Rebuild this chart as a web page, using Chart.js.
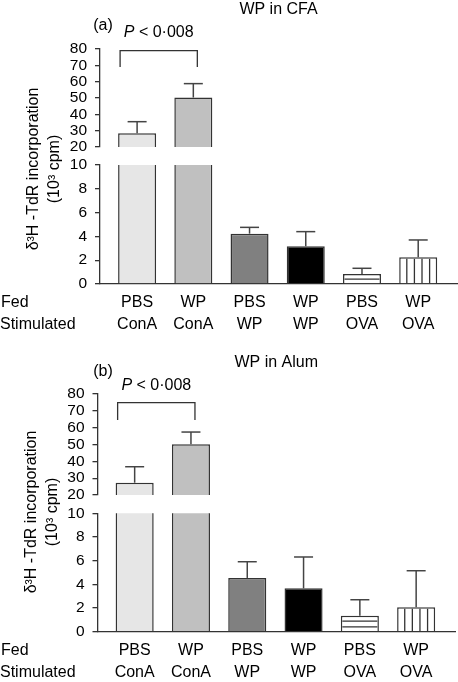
<!DOCTYPE html>
<html><head><meta charset="utf-8">
<script src="https://cdn.jsdelivr.net/npm/chart.js@4.4.1/dist/chart.umd.min.js"></script>
<style>
html,body{margin:0;padding:0;background:#fff;}
canvas{position:absolute;left:0;}
#ca{top:0}
#cb{top:341px}
</style></head><body>
<canvas id="ca" width="458" height="341"></canvas>
<canvas id="cb" width="458" height="341"></canvas>
<script>
// ---- data ----
const fedLabels = ['PBS', 'WP', 'PBS', 'WP', 'PBS', 'WP'];
const stimLabels = ['ConA', 'ConA', 'WP', 'WP', 'OVA', 'OVA'];
const upperTicks = [20, 30, 40, 50, 60, 70, 80];
const lowerTicks = [0, 2, 4, 6, 8, 10];
const cfaMeans = [28.4, 50.3, 4.23, 3.17, 0.84, 2.24];
const cfaSEM = [7.1, 8.5, 0.53, 1.23, 0.48, 1.46];
const alumMeans = [27.3, 50.1, 4.54, 3.66, 1.35, 2.06];
const alumSEM = [9.5, 7.3, 1.37, 2.65, 1.35, 3.09];
// ---- styles ----
const barFills = ['#e6e6e6', '#c0c0c0', '#808080', '#000000', '#ffffff', '#ffffff'];
const barHatch = [null, null, null, null, 'h', 'v'];
const FONT = '"Liberation Sans", Arial, Helvetica, sans-serif';
const INK = '#333333';
const TICK_PAD = 8, LINE_H = 22, FS = 16;

function makePanel(canvasId, means, sem, titleText, tagText, g) {
  const pts = means.map((v, i) => ({x: i, y: v}));
  const common = {
    data: pts, backgroundColor: barFills, borderColor: INK, borderWidth: 1.5,
    grouped: false, clip: false, barPercentage: 0.845, categoryPercentage: 0.8
  };
  const segClip = {
    id: 'segClip',
    beforeDatasetDraw(chart, args) {
      const ys = chart.scales[args.meta.yAxisID];
      const c = chart.ctx;
      c.save(); c.beginPath();
      c.rect(0, ys.top, chart.width, ys.bottom - ys.top);
      c.clip();
    },
    afterDatasetDraw(chart) { chart.ctx.restore(); }
  };
  const line = (c, x1, y1, x2, y2) => { c.beginPath(); c.moveTo(x1, y1); c.lineTo(x2, y2); c.stroke(); };
  const marks = {
    id: 'marks',
    afterDatasetsDraw(chart) {
      const c = chart.ctx;
      const lo = chart.scales.yLower, up = chart.scales.yUpper;
      const meta = chart.getDatasetMeta(0);
      meta.data.forEach((bar, i) => {
        const {x, y, base, width} = bar.getProps(['x', 'y', 'base', 'width'], true);
        const bw = 1.5;
        c.save();
        c.strokeStyle = INK; c.lineWidth = 1.3;
        if (barHatch[i] === 'h') {
          for (let yy = base - 4.2; yy > y + bw + 1; yy -= 5.7) line(c, x - width / 2 + bw, yy, x + width / 2 - bw, yy);
        } else if (barHatch[i] === 'v') {
          for (let k = 1; k < 5; k++) { const xx = x - width / 2 + width * k / 5; line(c, xx, y + bw, xx, base); }
        }
        const m = means[i], t = m + sem[i];
        const s = m >= up.min ? up : lo;
        const y0 = s.getPixelForValue(m), y1 = s.getPixelForValue(t);
        c.strokeStyle = '#444'; c.lineWidth = 1.5;
        line(c, x, y0, x, y1);
        line(c, x - 9.5, y1, x + 9.5, y1);
        c.restore();
      });
    }
  };
  const texts = {
    id: 'texts',
    afterDraw(chart) {
      const c = chart.ctx, ca = chart.chartArea, xs = chart.scales.x;
      c.save();
      c.fillStyle = '#000';
      c.textBaseline = 'middle';
      c.font = FS + 'px ' + FONT;
      // title
      c.textAlign = 'center';
      c.fillText(titleText, (ca.left + ca.right) / 2, g.titleY);
      // panel tag
      c.fillText(tagText, g.tagX, g.tagY);
      // bracket
      const meta = chart.getDatasetMeta(0);
      const b1 = meta.data[0].getProps(['x', 'width'], true);
      const b2 = meta.data[1].getProps(['x', 'width'], true);
      const bl = b1.x - b1.width / 2 + 2, br = b2.x + 4;
      c.strokeStyle = INK; c.lineWidth = 1.3;
      c.beginPath();
      c.moveTo(bl, g.legY); c.lineTo(bl, g.bracketY); c.lineTo(br, g.bracketY); c.lineTo(br, g.legY);
      c.stroke();
      // P value
      const pItal = 'italic ' + FS + 'px ' + FONT, pNorm = FS + 'px ' + FONT;
      const rest = ' < 0\u00b7008';
      c.font = pItal; const wP = c.measureText('P').width;
      c.font = pNorm; const wR = c.measureText(rest).width;
      const px0 = (bl + br) / 2 - (wP + wR) / 2;
      c.textAlign = 'left';
      c.font = pItal; c.fillText('P', px0, g.pY);
      c.font = pNorm; c.fillText(rest, px0 + wP, g.pY);
      // row labels
      const r1 = xs.top + TICK_PAD + LINE_H / 2;
      c.fillText('Fed', 1, r1);
      c.fillText('Stimulated', 0, r1 + LINE_H);
      // y title
      c.textAlign = 'center';
      c.save();
      c.translate(g.yTitleX[0], g.yTitleY); c.rotate(-Math.PI / 2);
      c.fillText('\u03b4\u00b3H -TdR incorporation', 0, 0);
      c.restore();
      c.save();
      c.translate(g.yTitleX[1], g.yTitleY); c.rotate(-Math.PI / 2);
      c.fillText('(10\u00b3 cpm)', 0, 0);
      c.restore();
      c.restore();
    }
  };
  const yCommon = (ticksArr) => ({
    type: 'linear', position: 'left', stack: 'y',
    min: ticksArr[0], max: ticksArr[ticksArr.length - 1],
    afterBuildTicks: s => { s.ticks = ticksArr.map(v => ({value: v})); },
    afterFit: s => { s.width = g.yWidth; },
    border: {display: true, color: INK, width: 1.3},
    grid: {display: true, drawOnChartArea: false, drawTicks: true, tickLength: 5, color: INK, lineWidth: 1.3},
    ticks: {padding: TICK_PAD, color: '#000', font: {family: FONT, size: 15.5}, autoSkip: false}
  });
  return new Chart(document.getElementById(canvasId), {
    type: 'bar',
    data: {
      datasets: [
        Object.assign({label: 'lower', yAxisID: 'yLower'}, common),
        Object.assign({label: 'upper', yAxisID: 'yUpper'}, common)
      ]
    },
    options: {
      responsive: false, animation: false, devicePixelRatio: 1,
      layout: {padding: {top: g.top, right: g.right, bottom: 0, left: 0}},
      plugins: {legend: {display: false}, tooltip: {enabled: false}, title: {display: false}},
      scales: {
        x: {
          type: 'linear', min: -0.66, max: 5.69, offset: false, z: 1,
          afterBuildTicks: s => { s.ticks = fedLabels.map((_, i) => ({value: i})); },
          afterFit: s => { s.height = g.xHeight; },
          border: {display: true, color: INK, width: 1.3},
          grid: {display: false, drawTicks: false},
          ticks: {
            callback: v => [fedLabels[v], stimLabels[v]],
            autoSkip: false, maxRotation: 0, padding: TICK_PAD, color: '#000',
            font: {family: FONT, size: FS, lineHeight: LINE_H / FS}
          }
        },
        yLower: Object.assign(yCommon(lowerTicks), {stackWeight: g.weights[2]}),
        yGap: {
          type: 'linear', position: 'left', stack: 'y', stackWeight: g.weights[1],
          min: 0, max: 1, afterFit: s => { s.width = g.yWidth; },
          border: {display: false}, grid: {display: false}, ticks: {display: false}
        },
        yUpper: Object.assign(yCommon(upperTicks), {stackWeight: g.weights[0]})
      }
    },
    plugins: [segClip, marks, texts]
  });
}

makePanel('ca', cfaMeans, cfaSEM, 'WP in CFA', '(a)', {
  top: 49, right: 1, yWidth: 100, xHeight: 57, weights: [98, 18, 119],
  titleY: 10, tagX: 103, tagY: 26, pY: 33, bracketY: 50.7, legY: 67,
  yTitleX: [34, 55], yTitleY: 169
});
makePanel('cb', alumMeans, alumSEM, 'WP in Alum', '(b)', {
  top: 53, right: 3, yWidth: 97.5, xHeight: 50.3, weights: [101, 18.3, 118.4],
  titleY: 21.5, tagX: 103, tagY: 31, pY: 45, bracketY: 61.7, legY: 79,
  yTitleX: [32, 53], yTitleY: 171
});
</script>
</body></html>
